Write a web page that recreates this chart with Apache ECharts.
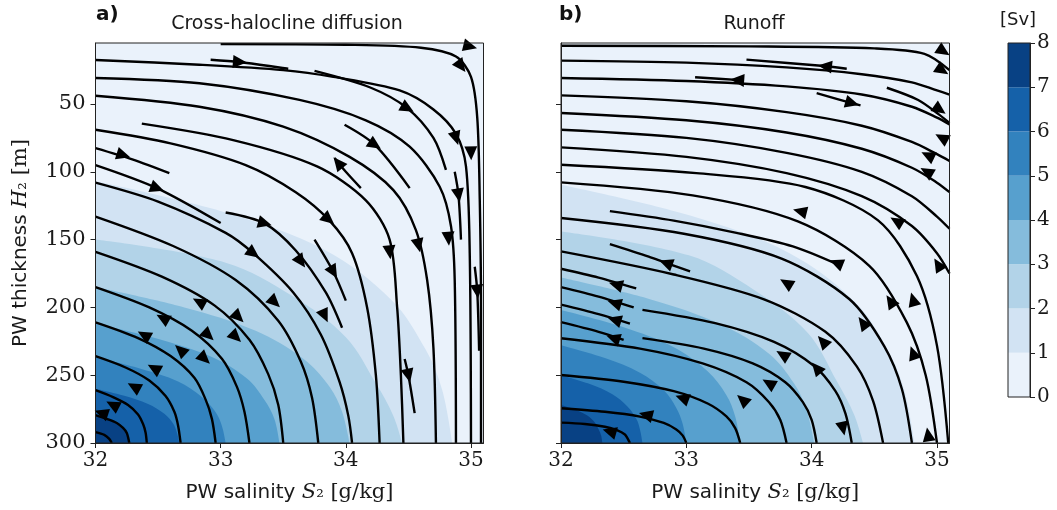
<!DOCTYPE html>
<html><head><meta charset="utf-8">
<script src="https://cdn.jsdelivr.net/npm/echarts@6/dist/echarts.min.js"></script>
<style>html,body{margin:0;padding:0;background:#fff}#c{width:1057px;height:510px}</style>
</head><body><div id="c"></div>
<script>
// ---------- DATA ----------
const xTicks = [32, 33, 34, 35];
const yTicks = [50, 100, 150, 200, 250, 300];
const cbTicks = [0, 1, 2, 3, 4, 5, 6, 7, 8];
const levelColors = ['#eaf2fb','#d2e3f3','#b2d3e8','#85bcdc','#57a0ce','#3282be','#1561a9','#084184'];

// contour boundaries (value >= level lies below/left of the curve) panel a
const cA1 = [[32,107],[33.04,130],[33.84,158],[34.37,195],[34.64,231.5],[34.77,261],[34.85,300]];
const cA2 = [[32,150],[33.04,167],[33.58,192],[34.0,222],[34.24,256],[34.38,280],[34.45,300]];
const cA3 = [[32,185],[32.71,200],[33.28,217.2],[33.66,237.9],[33.87,258.6],[33.97,277],[34.03,300]];
const cA4 = [[32,212],[32.51,223.4],[32.93,236.6],[33.21,252.5],[33.35,268.3],[33.43,282.4],[33.47,300]];
const cA5 = [[32,237],[32.36,245.2],[32.66,254.6],[32.85,266],[32.96,277.3],[33.01,287.4],[33.04,300]];
const cA6 = [[32,260],[32.23,265.2],[32.42,271.2],[32.55,278.4],[32.62,285.6],[32.65,292],[32.67,300]];
const cA7 = [[32,280],[32.09,282.6],[32.17,285.6],[32.22,289.2],[32.25,292.8],[32.26,296],[32.27,300]];
// panel b
const cB1 = [[32,109.5],[33.03,132.2],[33.82,159.8],[34.35,196.4],[34.61,231.8],[34.74,261.5],[34.82,300]];
const cB2 = [[32,144],[33.02,161.6],[33.55,187.7],[33.97,218.9],[34.2,254.3],[34.34,279.3],[34.41,300]];
const cB3 = [[32,178],[32.71,193.9],[33.27,212.2],[33.66,234.1],[33.86,256.1],[33.96,275.6],[34.02,300]];
const cB4 = [[32,202],[32.5,214.7],[32.9,229.4],[33.17,247.1],[33.32,264.7],[33.39,280.4],[33.43,300]];
const cB5 = [[32,228],[32.35,237.4],[32.63,248.2],[32.82,261.1],[32.92,274.1],[32.97,285.6],[33.0,300]];
const cB6 = [[32,250],[32.23,256.5],[32.41,264],[32.53,273],[32.6,282],[32.63,290],[32.65,300]];
const cB7 = [[32,272],[32.12,275.6],[32.21,279.8],[32.27,284.9],[32.3,289.9],[32.32,294.4],[32.33,300]];

// streamlines panel a (points ordered with increasing salinity)
const a01 = [[33.0,5.8],[34.0,6.3],[34.6,8.5],[34.88,15],[35.0,30],[35.05,60],[35.07,120],[35.08,200],[35.08,300]];
const a02 = [[32,17.5],[32.83,21],[33.5,25],[33.9,30],[34.43,40],[34.7,54],[34.88,72],[34.96,96],[34.99,160],[35.0,300]];
const a03 = [[32,30.8],[32.83,34.7],[33.63,47],[34.16,62],[34.51,81.5],[34.75,111],[34.84,140],[34.87,180],[34.88,300]];
const a04 = [[32,43.9],[32.83,52],[33.5,66.7],[34.03,89],[34.38,113.5],[34.56,143],[34.65,180],[34.7,230],[34.72,300]];
const a05 = [[32.37,64.5],[33.1,76.6],[33.77,96],[34.16,121],[34.35,150],[34.41,200],[34.44,250],[34.46,300]];
const a06 = [[32,69],[32.6,79],[33.2,95],[33.6,115],[33.87,136],[34.05,160],[34.17,200],[34.24,250],[34.27,300]];
const a07 = [[32,82.5],[32.3,91],[32.59,101]];
const a08 = [[32,95],[32.49,112],[33.0,137.8]];
const a09 = [[33.04,130],[33.35,138],[33.6,158],[33.84,189],[33.97,215]];
const a10 = [[32,108],[32.5,122],[33.04,145],[33.26,160],[33.58,189],[33.8,220],[33.95,255],[34.02,280],[34.05,300]];
const a11 = [[32,133],[32.62,154.7],[33.12,179.8],[33.46,209.8],[33.64,239.9],[33.73,266.6],[33.78,300]];
const a12 = [[32,159],[32.53,177.3],[32.95,198.5],[33.23,223.9],[33.38,249.2],[33.46,271.8],[33.5,300]];
const a13 = [[32,185],[32.43,200],[32.77,217.2],[33.01,237.9],[33.13,258.6],[33.19,277],[33.23,300]];
const a14 = [[32,211],[32.34,222.6],[32.6,235.9],[32.79,251.9],[32.88,268],[32.93,282.2],[32.96,300]];
const a15 = [[32,236],[32.24,244.3],[32.43,253.9],[32.56,265.4],[32.63,277],[32.66,287.2],[32.68,300]];
const a16 = [[32,261],[32.14,266.1],[32.26,271.9],[32.34,278.9],[32.38,286],[32.4,292.2],[32.41,300]];
const a17 = [[32,279.5],[32.09,282.2],[32.17,285.2],[32.22,288.9],[32.25,292.6],[32.27,300]];
const a18 = [[32,292],[32.07,294],[32.11,297],[32.13,300]];
const as0 = [[32.92,17.3],[33.15,19],[33.54,24]];
const as1 = [[33.75,25.6],[34.2,38],[34.49,53],[34.7,75],[34.8,98.5]];
const as2 = [[33.99,65.3],[34.23,80],[34.51,112]];
const as3 = [[34.87,100],[34.9,117],[34.92,150]];
const as4 = [[35.03,170],[35.05,188],[35.065,232]];
const as5 = [[34.47,238],[34.5,250],[34.55,278]];
const as6 = [[33.91,89.8],[34.0,100],[34.12,112]];
const as7 = [[33.75,150],[33.9,173.7],[34.0,195]];
// arrows panel a: [salinity, thickness, +1 along increasing S / -1 against]
const arrowsA = [[33.15,19,1],[34.99,7.5,1],[34.92,22,1],[34.49,53,1],[34.23,80,1],[33.94,93.6,-1],
  [34.88,75,1],[35.0,86,1],[34.9,117,1],[33.86,135,1],[34.35,159,1],[34.58,154,1],[34.82,149,1],
  [35.05,188,1],[34.5,250,1],[33.83,206,1],[33.9,173.7,1],[33.64,166,1],[33.26,160,1],[33.35,138,1],
  [32.22,87.6,1],[32.49,112,1],[33.43,196,1],
  [32.83,196,-1],[32.54,208,-1],[32.39,220.5,-1],[33.14,207,1],[32.9,220.5,1],[33.12,221.7,1],
  [32.68,231.5,-1],[32.87,237.7,1],[32.47,245,-1],[32.31,258.6,-1],[32.14,272,-1],[32.05,278,-1]];

// streamlines panel b
const b01 = [[32,7],[33.5,7.5],[34.5,9],[34.9,13],[35.1,25]];
const b02 = [[32,18],[33,19.5],[33.8,23],[34.4,28],[34.8,34],[35.0,40],[35.1,43]];
const b03 = [[32,30.8],[33,33],[33.8,37],[34.4,43],[34.8,52],[35.0,60],[35.1,65]];
const b04 = [[32,43.6],[33,48],[33.8,56],[34.4,66],[34.8,78],[35.0,87],[35.1,92]];
const b05 = [[32,56.6],[33,62],[33.8,71],[34.4,83],[34.8,97],[35.0,108],[35.1,115]];
const b06 = [[32,69],[33,75],[33.8,86],[34.4,100],[34.8,118],[35.0,133],[35.1,142]];
const b07 = [[32,82],[33,89],[33.8,101],[34.4,118],[34.8,140],[35.0,160],[35.1,175]];
const b08 = [[32,94.8],[33.08,101],[33.95,111.2],[34.53,135.8],[34.84,176.9],[35.0,228.2],[35.09,300]];
const b09 = [[32,107.8],[33.05,117.4],[33.89,136.6],[34.46,169.3],[34.76,211.2],[34.91,250],[35.0,300]];
const b10 = [[32,134.1],[32.98,145.7],[33.76,164],[34.3,193.8],[34.58,228.7],[34.72,260.2],[34.8,300]];
const b11 = [[32,158.7],[32.9,175.7],[33.62,194],[34.11,218],[34.36,243.5],[34.49,268.9],[34.57,300]];
const b12 = [[32,171.5],[32.3,178],[32.6,186]];
const b13 = [[32,185],[32.3,192],[32.58,200]];
const b14 = [[32,198],[32.3,205],[32.55,212]];
const b15 = [[32,210.9],[32.3,218],[32.5,224]];
const b16 = [[32,222.7],[32.63,230.4],[33.13,241.3],[33.48,255.2],[33.66,269.9],[33.75,283],[33.8,300]];
const b17 = [[32,249.8],[32.5,254.8],[32.9,261.8],[33.17,270.9],[33.32,280.4],[33.39,289],[33.43,300]];
const b18 = [[32,274.4],[32.35,277],[32.63,280.5],[32.82,285.2],[32.92,290],[32.97,294.4],[33.0,300]];
const b19 = [[32,285],[32.19,286],[32.35,288],[32.45,290.7],[32.51,293.7],[32.53,296.4],[32.55,300]];
const b20 = [[32.65,222.7],[33.14,230.4],[33.53,241.3],[33.79,255.2],[33.93,269.9],[34.0,283],[34.04,300]];
const b21 = [[32.65,201.8],[33.23,211.6],[33.7,225.4],[34.02,243.2],[34.19,261.7],[34.27,278.4],[34.32,300]];
const b22 = [[32.39,129],[32.9,136],[33.4,145],[33.85,155],[34.2,168]];
const bs1 = [[33.48,17.3],[34.1,22],[34.28,24]];
const bs2 = [[33.07,30.3],[33.4,32.2],[33.45,32.5]];
const bs3 = [[34.04,42],[34.32,49.3],[34.39,51]];
const bs4 = [[34.6,38],[34.85,47],[35.02,58],[35.1,64]];
const bs6 = [[32.39,153.3],[32.7,162.5],[32.84,167.3],[33.03,173.5]];
const arrowsB = [[34.11,22.2,-1],[33.41,32.3,-1],[34.32,49.3,1],[35.05,11,1],[35.04,25,1],[35.02,54,1],
  [35.04,75,-1],[34.93,88,-1],[34.92,100,-1],[34.68,136.6,-1],[33.91,129.2,-1],
  [32.84,167.3,-1],[32.44,183.3,-1],[32.43,196.9,-1],[32.43,209.2,-1],[32.42,222.7,-1],
  [32.97,267,-1],[32.68,279.3,-1],[32.39,291.6,-1],[33.8,182.1,-1],[34.2,167.3,-1],
  [34.41,211.6,-1],[34.09,225.2,-1],[33.77,235,-1],[34.04,244.8,-1],[33.66,256,-1],
  [33.45,268.2,-1],[34.25,289.1,1],[34.63,195.6,-1],[34.81,194.4,-1],[35.01,168.6,-1],
  [34.81,233.8,-1],[34.93,294,-1]];

const contoursA = [cA1,cA2,cA3,cA4,cA5,cA6,cA7];
const contoursB = [cB1,cB2,cB3,cB4,cB5,cB6,cB7];
const linesA = [a01,a02,a03,a04,a05,a06,a07,a08,a09,a10,a11,a12,a13,a14,a15,a16,a17,a18,as0,as1,as2,as3,as4,as5,as6,as7];
const linesB = [b01,b02,b03,b04,b05,b06,b07,b08,b09,b10,b11,b12,b13,b14,b15,b16,b17,b18,b19,b20,b21,b22,bs1,bs2,bs3,bs4,bs6];

// ---------- LAYOUT ----------
const G = [{left:95.5, top:43, width:388, height:400},{left:561, top:43, width:388.5, height:400}];
const CB = {left:1008, top:43, width:22, height:354};
const serif = 'DejaVu Serif';
const sans = 'DejaVu Sans';
const ink = '#1a1a1a';
const nameRich = {
  s:{fontFamily:sans,fontSize:20,color:ink},
  i:{fontFamily:serif,fontStyle:'italic',fontSize:21,color:ink},
  b:{fontFamily:serif,fontSize:19,color:ink},
  r:{fontFamily:serif,fontSize:21,color:ink}
};

const chart = echarts.init(document.getElementById('c'), null, {renderer:'canvas'});

function xAx(i){
  return {type:'value', gridIndex:i, min:32, max:35.1, z:20,
    axisLine:{show:true, onZero:false, lineStyle:{color:'#222', width:1}},
    axisTick:{show:true, inside:false, length:5, customValues:xTicks, lineStyle:{color:'#222'}},
    axisLabel:{show:true, customValues:xTicks, margin:8, fontFamily:serif, fontSize:20, color:ink},
    splitLine:{show:false},
    name:'{s|PW salinity }{i|S}{b|₂}{r| [g/kg]}', nameLocation:'middle', nameGap:39,
    nameTextStyle:{rich:nameRich}
  };
}
function yAx(i, labels){
  const o = {type:'value', gridIndex:i, min:5, max:300, inverse:true, z:20,
    axisLine:{show:true, onZero:false, lineStyle:{color:'#222', width:1}},
    axisTick:{show:true, inside:false, length:5, customValues:yTicks, lineStyle:{color:'#222'}},
    axisLabel:{show:labels, customValues:yTicks, margin:10, fontFamily:serif, fontSize:21, color:ink},
    splitLine:{show:false}};
  if (labels) {
    o.name = '{s|PW thickness }{i|H}{b|₂}{r| [m]}';
    o.nameLocation = 'middle'; o.nameGap = 64; o.nameRotate = 90;
    o.nameTextStyle = {rich:nameRich};
  }
  return o;
}

const series = [];
function addPanel(i, contours, lines, arrows){
  contours.forEach(function(c, k){
    series.push({type:'line', xAxisIndex:i, yAxisIndex:i, data:c, smooth:0.35, symbol:'none', silent:true,
      lineStyle:{width:0}, areaStyle:{origin:'end', color:levelColors[k+1], opacity:1}, z:2+k*0.01});
  });
  lines.forEach(function(l){
    series.push({type:'line', xAxisIndex:i, yAxisIndex:i, data:l, smooth:0.3, symbol:'none', silent:true,
      lineStyle:{width:2.4, color:'#000', cap:'butt'}, z:5});
  });
  series.push({type:'custom', xAxisIndex:i, yAxisIndex:i, data:arrows, z:8, silent:true,
    renderItem:function(params, api){
      const p = api.coord([api.value(0), api.value(1)]);
      const sg = api.value(2);
      let best = 1e12, dx = 1, dy = 0;
      lines.forEach(function(L){
        for (let j=0;j<L.length-1;j++){
          const a = api.coord(L[j]), b = api.coord(L[j+1]);
          const vx=b[0]-a[0], vy=b[1]-a[1], l2=vx*vx+vy*vy; if(!l2) continue;
          let t=((p[0]-a[0])*vx+(p[1]-a[1])*vy)/l2; t=Math.max(0,Math.min(1,t));
          const qx=a[0]+t*vx-p[0], qy=a[1]+t*vy-p[1], d=qx*qx+qy*qy;
          if (d<best){best=d; const l=Math.sqrt(l2); dx=vx/l; dy=vy/l;}
        }
      });
      dx*=sg; dy*=sg;
      const nx=-dy, ny=dx, F=7.5, B=6.5, W=6.5;
      return {type:'polygon', shape:{points:[[p[0]+dx*F,p[1]+dy*F],[p[0]-dx*B+nx*W,p[1]-dy*B+ny*W],[p[0]-dx*B-nx*W,p[1]-dy*B-ny*W]]},
        style:{fill:'#000'}};
    }});
}
addPanel(0, contoursA, linesA, arrowsA);
addPanel(1, contoursB, linesB, arrowsB);

// colorbar: stacked unit blocks
levelColors.forEach(function(col, k){
  series.push({type:'bar', xAxisIndex:2, yAxisIndex:2, stack:'cb', data:[1], barWidth:'100%', silent:true,
    itemStyle:{color:col}, z:2});
});

const frames = G.concat([CB]).map(function(g){
  return {type:'rect', z:100, silent:true, shape:{x:g.left, y:g.top, width:g.width, height:g.height},
    style:{fill:'none', stroke:'#222', lineWidth:1}};
});

chart.setOption({
  animation:false,
  backgroundColor:'#fff',
  grid:[
    Object.assign({show:true, backgroundColor:levelColors[0], borderWidth:0}, G[0]),
    Object.assign({show:true, backgroundColor:levelColors[0], borderWidth:0}, G[1]),
    Object.assign({show:false}, CB)
  ],
  xAxis:[xAx(0), xAx(1), {type:'category', gridIndex:2, data:['c'], show:false, boundaryGap:true}],
  yAxis:[yAx(0,true), yAx(1,false),
    {type:'value', gridIndex:2, min:0, max:8, interval:1, position:'right', z:20,
     axisLine:{show:true, lineStyle:{color:'#222'}},
     axisTick:{show:true, inside:false, length:5, lineStyle:{color:'#222'}},
     axisLabel:{margin:7, fontFamily:serif, fontSize:20, color:ink, customValues:cbTicks},
     splitLine:{show:false}}],
  series:series,
  graphic:frames.concat([
    {type:'text', left:96, top:5, style:{text:'a)', font:'bold 20px "DejaVu Sans"', fill:'#111'}},
    {type:'text', x:287, y:24, style:{text:'Cross-halocline diffusion', font:'19px "DejaVu Sans"', fill:ink, textAlign:'center', textVerticalAlign:'middle'}},
    {type:'text', left:559, top:5, style:{text:'b)', font:'bold 20px "DejaVu Sans"', fill:'#111'}},
    {type:'text', x:754, y:24, style:{text:'Runoff', font:'19px "DejaVu Sans"', fill:ink, textAlign:'center', textVerticalAlign:'middle'}},
    {type:'text', x:1018, y:20, style:{text:'[Sv]', font:'18px "DejaVu Sans"', fill:ink, textAlign:'center', textVerticalAlign:'middle'}}
  ])
});
</script></body></html>
